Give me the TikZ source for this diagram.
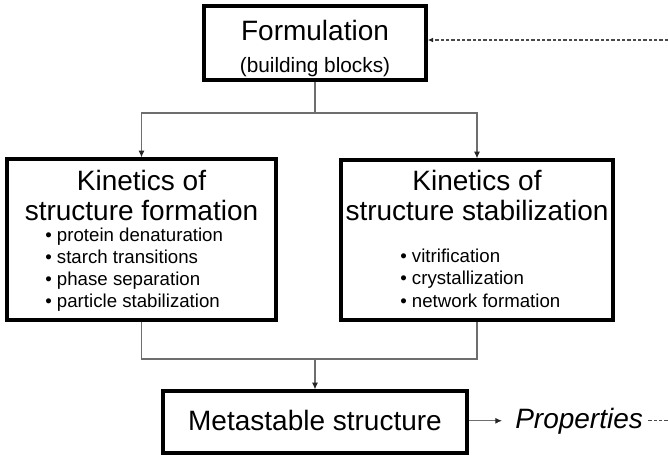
\documentclass[tikz,border=0pt]{standalone}
\usepackage{fontspec}
\setmainfont{Liberation Sans}
\usetikzlibrary{arrows.meta,positioning,fit}
\definecolor{linkgray}{HTML}{6E6E6E}
\definecolor{fbgray}{HTML}{4A4A4A}

\begin{document}
\begin{tikzpicture}[
    x=0.75pt,y=-0.75pt,
    box/.style={draw,line width=2.5pt,inner sep=0pt},
    title/.style={anchor=base,inner sep=0pt,font=\fontsize{21}{25}\selectfont},
    sub/.style={anchor=base,inner sep=0pt,font=\fontsize{15.6}{18}\selectfont},
    listline/.style={anchor=base west,inner sep=0pt,font=\fontsize{14}{16.5}\selectfont},
    link/.style={draw=linkgray,line width=0.8pt},
    arr/.style={link,-{Latex[length=5pt,width=4.5pt,color=black!85]}},
    fb/.style={draw=fbgray,line width=0.8pt,dash pattern=on 2.5pt off 1.5pt},
  ]
  \useasboundingbox (0,0) rectangle (668,455);

  % boxes
  \node[box,fit={(204,6) (426,80)}] (form) {};
  \node[box,fit={(7,159) (276,320)}] (kform) {};
  \node[box,fit={(341,160) (613,320)}] (kstab) {};
  \node[box,fit={(163,391) (467,453)}] (meta) {};

  % box texts
  \node[title] (formt) at (315,40) {Formulation};
  \node[sub] (forms) at (315,72) {(building blocks)};
  \node[title] (kformt1) at (141.5,190) {Kinetics of};
  \node[title] (kformt2) at (141.5,220) {structure formation};
  \node[title] (kstabt1) at (477,190) {Kinetics of};
  \node[title] (kstabt2) at (477,220) {structure stabilization};
  \foreach \txt [count=\i] in {protein denaturation,starch transitions,phase separation,particle stabilization}
    \node[listline] (kform\i) at (45,{219.7+22*\i}) {\textbullet\ \txt};
  \foreach \txt [count=\i] in {vitrification,crystallization,network formation}
    \node[listline] (kstab\i) at (400,{239.5+22.5*\i}) {\textbullet\ \txt};
  \node[title] (metat) at (315,430) {Metastable structure};
  \node[title,anchor=base west,font=\fontsize{21}{25}\selectfont\itshape] (props) at (515,428) {Properties};

  % connectors
  \coordinate (split) at (315,113);
  \coordinate (merge) at (315,359);
  \coordinate (fbin) at (668,40);
  \coordinate (fbout) at (668,418);

  \draw[link] (form.south) -- (split);
  \draw[arr] (split) -| (kform.north);
  \draw[arr] (split) -| (kstab.north);
  \draw[link] (kform.south) |- (merge);
  \draw[link] (kstab.south) |- (merge);
  \draw[arr] (merge) -- (meta.north);
  \draw[arr,shorten >=9.75pt] (meta.east |- props.west) -- (props.west);
  \draw[fb] ([xshift=4pt]props.east) -- (fbout |- props.east);
  \draw[fb,-{Latex[length=4pt,width=3.5pt,color=black!85]}] (fbin) -- (form.east |- fbin);
\end{tikzpicture}
\end{document}
